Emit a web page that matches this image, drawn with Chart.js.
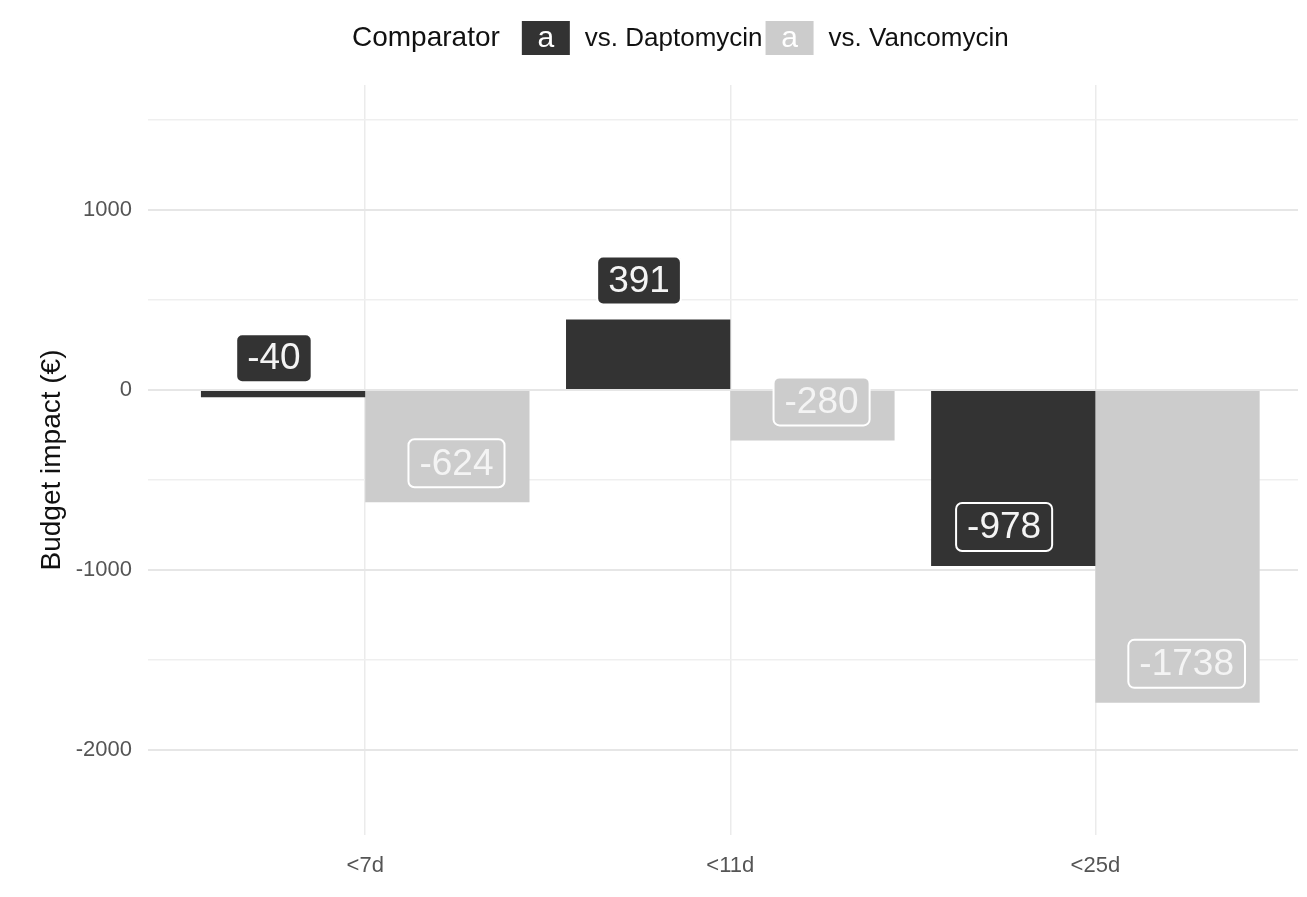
<!DOCTYPE html>
<html>
<head>
<meta charset="utf-8">
<script src="https://cdn.jsdelivr.net/npm/chart.js@4.4.1/dist/chart.umd.min.js"></script>
<style>
  html, body { margin: 0; padding: 0; background: #fff; overflow: hidden; }
  canvas { display: block; }
</style>
</head>
<body>
<canvas id="grafica" width="1307" height="897"></canvas>
<script>
// --- DATOS ---
const categorias = ['<7d', '<11d', '<25d'];
const vsDaptomycin = [-40, 391, -978];
const vsVancomycin = [-624, -280, -1738];
const ticksY = [-2000, -1500, -1000, -500, 0, 500, 1000, 1500];
const nombresSeries = ['vs. Daptomycin', 'vs. Vancomycin'];
const tituloLeyenda = 'Comparator';

const colores = ['#333333', '#cccccc'];
const FUENTE = '"Liberation Sans", Arial, sans-serif';

// leyenda dibujada arriba, estilo ggplot
const leyendaPlugin = {
    id: 'leyenda',
    afterDraw(chart) {
        const ctx = chart.ctx;
        const yc = 38;
        let x = 352;
        ctx.save();
        ctx.textBaseline = 'middle';
        ctx.textAlign = 'left';
        ctx.fillStyle = '#111';
        ctx.font = '28px ' + FUENTE;
        ctx.fillText(tituloLeyenda, x, yc);
        x += ctx.measureText(tituloLeyenda).width + 22;
        const gaps = [3, 0];
        nombresSeries.forEach((nombre, i) => {
            ctx.fillStyle = colores[i];
            ctx.fillRect(x, yc - 17, 48, 34);
            ctx.fillStyle = '#fff';
            ctx.textAlign = 'center';
            ctx.font = '30px ' + FUENTE;
            ctx.fillText('a', x + 24, yc + 1);
            x += 48 + 15;
            ctx.textAlign = 'left';
            ctx.fillStyle = '#111';
            ctx.font = '26px ' + FUENTE;
            ctx.fillText(nombre, x, yc + 1);
            x += ctx.measureText(nombre).width + gaps[i];
        });
        ctx.restore();
    }
};

// etiquetas tipo geom_label encima del extremo de cada barra
const etiquetasPlugin = {
    id: 'etiquetas',
    afterDatasetsDraw(chart) {
        const ctx = chart.ctx;
        const xs = chart.scales.x;
        const paso = xs.getPixelForValue(1) - xs.getPixelForValue(0);
        ctx.save();
        ctx.font = '37px ' + FUENTE;
        ctx.textAlign = 'center';
        ctx.textBaseline = 'middle';
        chart.data.datasets.forEach((ds, d) => {
            const meta = chart.getDatasetMeta(d);
            meta.data.forEach((barra, i) => {
                const texto = String(ds.data[i].y);
                const cx = xs.getPixelForValue(i) + (d === 0 ? -1 : 1) * paso / 4;
                const cy = barra.y - 39;
                const w = ctx.measureText(texto).width + 22;
                const h = 48;
                ctx.beginPath();
                ctx.roundRect(cx - w / 2, cy - h / 2, w, h, 6);
                ctx.fillStyle = colores[d];
                ctx.fill();
                ctx.lineWidth = 2;
                ctx.strokeStyle = '#ffffff';
                ctx.stroke();
                ctx.fillStyle = '#f4f4f4';
                ctx.fillText(texto, cx, cy + 1);
            });
        });
        ctx.restore();
    }
};

const datasets = [vsDaptomycin, vsVancomycin].map((serie, d) => ({
    label: nombresSeries[d],
    data: serie.map((v, i) => ({ x: i, y: v })),
    backgroundColor: colores[d],
    borderWidth: 0,
    categoryPercentage: 0.9,
    barPercentage: 1.0
}));

new Chart(document.getElementById('grafica'), {
    type: 'bar',
    data: { datasets },
    plugins: [leyendaPlugin, etiquetasPlugin],
    options: {
        responsive: false,
        animation: false,
        layout: { padding: { top: 85, right: 9, bottom: 0, left: 0 } },
        plugins: {
            legend: { display: false },
            title: { display: false },
            tooltip: { enabled: false }
        },
        scales: {
            x: {
                type: 'linear',
                offset: false,
                min: -0.595,
                max: 2.555,
                afterBuildTicks: (s) => { s.ticks = categorias.map((c, i) => ({ value: i })); },
                afterFit: (s) => { s.height = 62; },
                ticks: {
                    padding: 18,
                    color: '#555',
                    font: { family: FUENTE, size: 22 },
                    callback: (v) => categorias[v]
                },
                grid: { color: '#ebebeb', lineWidth: 1.5, drawTicks: false, offset: false },
                border: { display: false }
            },
            y: {
                min: -2472,
                max: 1694,
                afterBuildTicks: (s) => { s.ticks = ticksY.map(v => ({ value: v })); },
                afterFit: (s) => { s.width = 148; },
                ticks: {
                    padding: 16,
                    color: '#555',
                    font: { family: FUENTE, size: 22 },
                    callback: (v) => (v % 1000 === 0 ? String(v) : '')
                },
                grid: {
                    drawTicks: false,
                    color: (c) => (c.tick && c.tick.value % 1000 === 0 ? '#e6e6e6' : '#efefef'),
                    lineWidth: (c) => (c.tick && c.tick.value % 1000 === 0 ? 2 : 1.5)
                },
                border: { display: false },
                title: {
                    display: true,
                    text: 'Budget impact (€)',
                    color: '#111',
                    font: { family: FUENTE, size: 28 },
                    padding: { top: 35, bottom: 0 }
                }
            }
        }
    }
});
</script>
</body>
</html>
